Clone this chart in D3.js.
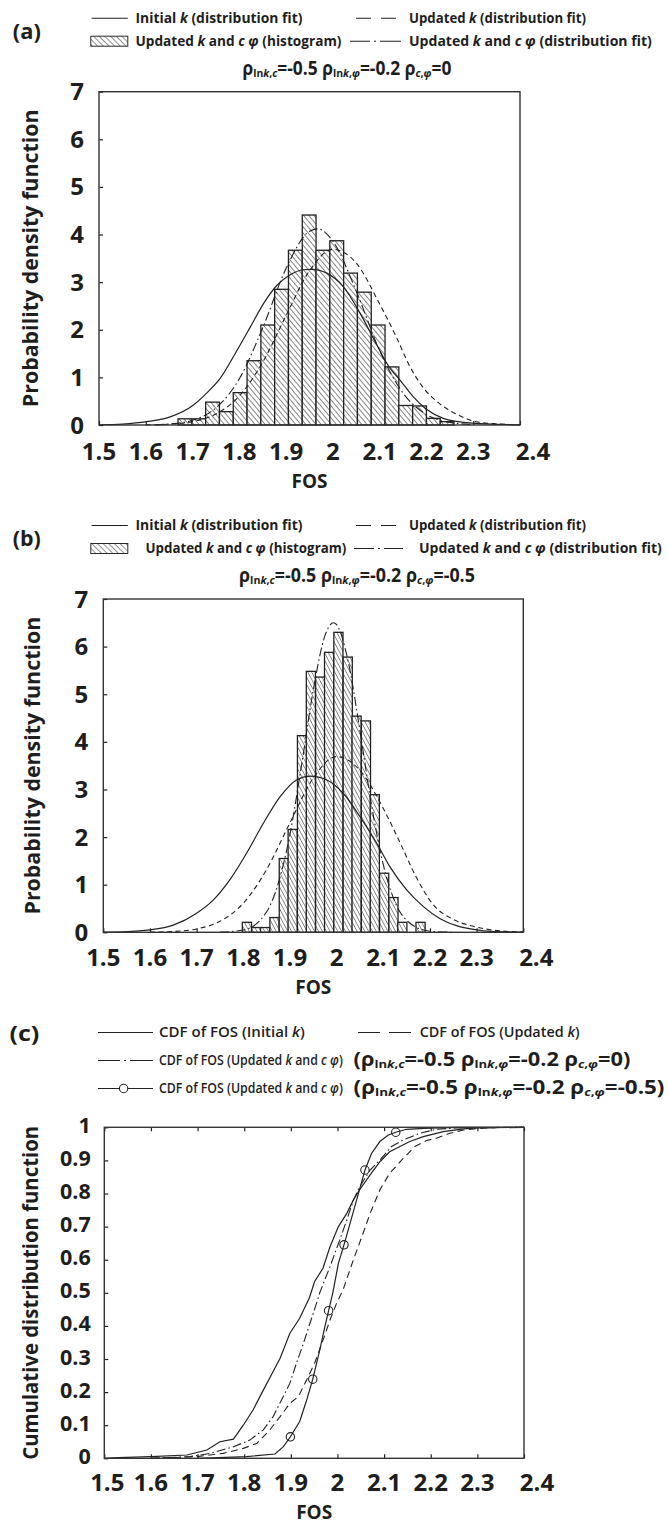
<!DOCTYPE html>
<html><head><meta charset="utf-8">
<script src="https://cdn.jsdelivr.net/npm/d3@7"></script>
<style>
html,body{margin:0;padding:0;background:#fff;}
svg text{font-family:"Open Sans",sans-serif;fill:#1e1e1e;}
</style></head><body>
<svg id="chart" width="668" height="1526"></svg>
<script>
// ---------------- DATA ----------------
const xTickValues = [1.5, 1.6, 1.7, 1.8, 1.9, 2.0, 2.1, 2.2, 2.3, 2.4];
const xTickLabels = ["1.5", "1.6", "1.7", "1.8", "1.9", "2", "2.1", "2.2", "2.3", "2.4"];
const pdfTickValues = [0, 1, 2, 3, 4, 5, 6, 7];
const pdfTickLabels = ["0", "1", "2", "3", "4", "5", "6", "7"];
const cdfTickValues = [0, 0.1, 0.2, 0.3, 0.4, 0.5, 0.6, 0.7, 0.8, 0.9, 1];
const cdfTickLabels = ["0", "0.1", "0.2", "0.3", "0.4", "0.5", "0.6", "0.7", "0.8", "0.9", "1"];

// (a) histogram: Updated k and c phi, rho_c,phi = 0
const histA_binStart = [1.669, 1.6985, 1.728, 1.7575, 1.787, 1.8165, 1.846, 1.8755, 1.905, 1.9345,
                        1.964, 1.9935, 2.023, 2.0525, 2.082, 2.1115, 2.141, 2.1705, 2.200, 2.2295];
const histA_binWidth = 0.0295;
const histA_density = [0.13, 0.13, 0.48, 0.28, 0.68, 1.35, 2.10, 2.85, 3.67, 4.41,
                       3.67, 3.87, 3.19, 2.79, 2.10, 1.22, 0.41, 0.40, 0.14, 0.07];
// (a) fitted pdfs
const pdfA_initialK = [[1.50,0.005],[1.55,0.02],[1.602,0.07],[1.652,0.17],[1.702,0.42],[1.730,0.67],[1.759,0.98],
  [1.794,1.55],[1.823,2.05],[1.851,2.54],[1.880,2.93],[1.908,3.15],[1.937,3.26],[1.955,3.27],[1.987,3.19],
  [2.022,2.91],[2.058,2.35],[2.094,1.68],[2.120,1.22],[2.143,0.95],[2.172,0.59],[2.200,0.33],[2.236,0.14],
  [2.286,0.05],[2.357,0.012],[2.40,0.004]];
const pdfA_updatedK = [[1.60,0.003],[1.65,0.017],[1.70,0.07],[1.75,0.23],[1.80,0.61],[1.85,1.32],[1.90,2.30],
  [1.95,3.24],[2.00,3.69],[2.05,3.40],[2.10,2.54],[2.136,1.84],[2.164,1.24],[2.192,0.80],[2.228,0.45],
  [2.27,0.20],[2.306,0.07],[2.35,0.023],[2.40,0.005]];
const pdfA_updatedKcphi = [[1.62,0.005],[1.65,0.02],[1.70,0.10],[1.75,0.36],[1.80,0.97],[1.85,2.04],[1.90,3.29],
  [1.95,4.07],[1.968,4.12],[2.00,3.86],[2.05,2.81],[2.10,1.56],[2.15,0.67],[2.20,0.22],[2.25,0.055],[2.30,0.01]];

// (b) histogram: Updated k and c phi, rho_c,phi = -0.5
const histB_binStart = [1.798, 1.818, 1.837, 1.857, 1.877, 1.896, 1.916, 1.935, 1.955, 1.974,
                        1.994, 2.014, 2.033, 2.053, 2.072, 2.092, 2.112, 2.131, 2.151, 2.170];
const histB_binWidth = 0.0196;
const histB_density = [0.21, 0.10, 0.10, 0.31, 1.55, 2.16, 4.13, 5.48, 5.36, 5.88,
                       6.30, 5.78, 4.54, 4.44, 2.89, 1.24, 0.73, 0.21, 0.0, 0.21];
// (b) fitted pdfs
const pdfB_initialK = [[1.50,0.005],[1.543,0.012],[1.60,0.05],[1.65,0.15],[1.70,0.40],[1.736,0.68],[1.771,1.10],
  [1.807,1.66],[1.843,2.29],[1.879,2.85],[1.914,3.20],[1.943,3.28],[1.979,3.20],[2.014,2.92],[2.05,2.43],
  [2.086,1.87],[2.114,1.38],[2.15,0.89],[2.186,0.54],[2.221,0.29],[2.257,0.14],[2.30,0.05],[2.329,0.02],[2.40,0.003]];
const pdfB_updatedK = [[1.60,0.003],[1.65,0.017],[1.70,0.07],[1.75,0.23],[1.80,0.61],[1.85,1.32],[1.90,2.30],
  [1.95,3.24],[2.00,3.69],[2.05,3.40],[2.10,2.60],[2.136,1.88],[2.17,1.17],[2.207,0.58],[2.25,0.27],
  [2.30,0.11],[2.35,0.03],[2.40,0.008]];
const pdfB_updatedKcphi = [[1.75,0.003],[1.80,0.047],[1.85,0.43],[1.875,1.03],[1.90,2.06],[1.925,3.52],[1.95,5.09],
  [1.975,6.23],[1.993,6.50],[2.00,6.46],[2.025,5.68],[2.05,4.23],[2.075,2.66],[2.10,1.42],[2.125,0.64],
  [2.15,0.25],[2.20,0.022],[2.25,0.0]];

// (c) cumulative distribution functions
const cdf_initialK = [[1.50,0],[1.53,0.002],[1.60,0.005],[1.677,0.01],[1.72,0.025],[1.748,0.05],[1.777,0.058],
  [1.798,0.10],[1.819,0.146],[1.841,0.206],[1.862,0.262],[1.877,0.302],[1.898,0.378],[1.919,0.423],[1.94,0.486],
  [1.951,0.534],[1.969,0.574],[1.984,0.639],[2.002,0.70],[2.02,0.74],[2.034,0.78],[2.045,0.806],[2.07,0.856],
  [2.091,0.896],[2.112,0.926],[2.134,0.942],[2.155,0.957],[2.184,0.972],[2.227,0.987],[2.27,0.995],[2.30,0.998],[2.40,1.0]];
const cdf_updatedK = [[1.60,0],[1.698,0.005],[1.755,0.015],[1.798,0.03],[1.827,0.045],[1.855,0.086],[1.877,0.126],
  [1.898,0.166],[1.916,0.186],[1.934,0.237],[1.951,0.287],[1.969,0.357],[1.984,0.418],[1.998,0.468],[2.012,0.509],
  [2.034,0.599],[2.055,0.68],[2.07,0.74],[2.091,0.811],[2.112,0.861],[2.141,0.906],[2.166,0.942],[2.191,0.96],
  [2.212,0.967],[2.241,0.982],[2.27,0.992],[2.298,0.996],[2.35,1.0],[2.40,1.0]];
const cdf_updatedKcphi_rho0 = [[1.60,0],[1.684,0.005],[1.727,0.015],[1.777,0.035],[1.812,0.055],[1.841,0.086],
  [1.862,0.126],[1.88,0.176],[1.898,0.227],[1.912,0.287],[1.927,0.347],[1.941,0.408],[1.955,0.468],[1.962,0.50],
  [1.984,0.579],[2.005,0.66],[2.02,0.72],[2.034,0.78],[2.048,0.821],[2.07,0.871],[2.091,0.901],[2.116,0.942],
  [2.141,0.962],[2.177,0.982],[2.212,0.994],[2.255,0.998],[2.40,1.0]];
const cdf_updatedKcphi_rhoNeg05 = [[1.70,0],[1.805,0.005],[1.866,0.013],[1.884,0.035],[1.899,0.065],[1.919,0.111],
  [1.934,0.176],[1.947,0.239],[1.962,0.327],[1.973,0.398],[1.981,0.446],[1.99,0.50],[2.002,0.589],[2.014,0.645],
  [2.027,0.71],[2.041,0.78],[2.059,0.871],[2.073,0.921],[2.091,0.957],[2.109,0.977],[2.125,0.985],[2.148,0.994],
  [2.184,0.997],[2.255,1.0],[2.40,1.0]];
const cdf_rhoNeg05_markers = [[1.899,0.065],[1.947,0.239],[1.981,0.446],[2.014,0.645],[2.059,0.871],[2.125,0.985]];

// ---------------- LAYOUT ----------------
const svg = d3.select("#chart");
const INK = "#222";
const defs = svg.append("defs");
function hatch(id, spacing, angle, sw) {
  const p = defs.append("pattern").attr("id", id).attr("patternUnits", "userSpaceOnUse")
    .attr("width", spacing).attr("height", spacing).attr("patternTransform", `rotate(${angle})`);
  p.append("rect").attr("width", spacing).attr("height", spacing).attr("fill", "#fff");
  p.append("line").attr("x1", 0).attr("y1", 0).attr("x2", 0).attr("y2", spacing)
    .attr("stroke", "#262626").attr("stroke-width", sw);
}
hatch("hatchA", 3.9, -40, 1.1);
hatch("hatchB", 3.4, -28, 1.0);
hatch("hatchL", 4.0, -45, 1.0);

function fit(sel, target) {
  const w = sel.node().getComputedTextLength();
  const x = +sel.attr("x") || 0;
  const s = target / w;
  sel.attr("transform", `translate(${x},0) scale(${s},1) translate(${-x},0)`);
  return sel;
}
// rich text: segments [text, flags] flags: i=italic, s=subscript
function rich(g, x, y, segs, size, weight, anchor, subScale, shiftEm) {
  const t = g.append("text").attr("x", x).attr("y", y).attr("font-size", size)
    .attr("font-weight", weight).attr("text-anchor", anchor || "start");
  let inSub = false;
  const shift = size * (shiftEm || 0.08);
  segs.forEach(([s, f]) => {
    f = f || "";
    const sub = f.includes("s");
    const ts = t.append("tspan").text(s);
    if (f.includes("i")) ts.attr("font-style", "italic");
    if (sub) ts.attr("font-size", size * (subScale || 0.62));
    if (sub && !inSub) ts.attr("dy", shift);
    if (!sub && inSub) ts.attr("dy", -shift);
    inSub = sub;
  });
  return t;
}
function rhoSegs(last, paren) {
  const s = [];
  if (paren) s.push(["("]);
  s.push(["ρ"], ["ln", "s"], ["k", "si"], [",", "s"], ["c", "si"], ["=-0.5 ρ"], ["ln", "s"], ["k", "si"], [",", "s"],
    ["φ", "si"], ["=-0.2 ρ"], ["c", "si"], [",", "s"], ["φ", "si"], ["=" + last + (paren ? ")" : "")]);
  return s;
}

function panel(cfg) {
  const x = d3.scaleLinear().domain([1.5, 2.4]).range([cfg.left, cfg.right]);
  const y = d3.scaleLinear().domain(cfg.yDomain).range([cfg.bottom, cfg.top]);
  const g = svg.append("g");
  const ax = g.append("g").attr("transform", `translate(0,${cfg.bottom})`)
    .call(d3.axisBottom(x).tickValues(xTickValues).tickSize(-4).tickFormat(""));
  ax.select(".domain").remove();
  ax.selectAll("line").attr("stroke", INK).attr("stroke-width", 1.2);
  if (cfg.topTicks) {
    const at = g.append("g").attr("transform", `translate(0,${cfg.top})`)
      .call(d3.axisTop(x).tickValues(xTickValues).tickSize(-4).tickFormat(""));
    at.select(".domain").remove();
    at.selectAll("line").attr("stroke", INK).attr("stroke-width", 1.2);
  }
  const ay = g.append("g").attr("transform", `translate(${cfg.left},0)`)
    .call(d3.axisLeft(y).tickValues(cfg.yTicks).tickSize(-4).tickFormat(""));
  ay.select(".domain").remove();
  ay.selectAll("line").attr("stroke", INK).attr("stroke-width", 1.2);
  const n = xTickValues.length;
  g.selectAll(".xl").data(xTickValues).join("text")
    .attr("x", (d, i) => x(d) + (i === n - 1 ? 13 : (i === 0 ? cfg.firstXLabShift : 0)))
    .attr("y", cfg.bottom + cfg.xLabOff).attr("text-anchor", "middle")
    .attr("font-size", 24).attr("font-weight", 700).text((d, i) => xTickLabels[i]);
  g.selectAll(".yl").data(cfg.yTicks).join("text")
    .attr("x", cfg.left - cfg.yLabGap).attr("y", d => y(d) + cfg.yLabDy).attr("text-anchor", "end")
    .attr("font-size", cfg.yLabSize).attr("font-weight", 700).text((d, i) => cfg.yLabels[i]);
  g.append("text").attr("x", (cfg.left + cfg.right) / 2).attr("y", cfg.bottom + cfg.xTitleOff)
    .attr("text-anchor", "middle").attr("font-size", 19).attr("font-weight", 700).text("FOS");
  const yt = g.append("g").attr("transform", `translate(${cfg.yTitleX},${(cfg.top + cfg.bottom) / 2}) rotate(-90)`);
  fit(yt.append("text").attr("x", 0).attr("y", 0).attr("text-anchor", "middle")
    .attr("font-size", 20.5).attr("font-weight", 700).text(cfg.yTitle), cfg.yTitleLen);
  return {g, x, y};
}

function drawHist(p, starts, w, dens, pat) {
  p.g.append("g").selectAll("rect").data(starts.map((s, i) => [s, dens[i]]).filter(d => d[1] > 0))
    .join("rect")
    .attr("x", d => p.x(d[0])).attr("width", d => p.x(d[0] + w) - p.x(d[0]))
    .attr("y", d => p.y(d[1])).attr("height", d => p.y(0) - p.y(d[1]))
    .attr("fill", `url(#${pat})`).attr("stroke", "#222").attr("stroke-width", 1.3);
}
function drawLine(p, data, dash, curve, sw) {
  const line = d3.line().x(d => p.x(d[0])).y(d => p.y(d[1])).curve(curve);
  p.g.append("path").datum(data).attr("d", line).attr("fill", "none").attr("stroke", INK)
    .attr("stroke-width", sw || 1.1).attr("stroke-dasharray", dash || null);
}
function box(p, cfg) {
  p.g.append("rect").attr("x", cfg.left).attr("y", cfg.top).attr("width", cfg.right - cfg.left)
    .attr("height", cfg.bottom - cfg.top).attr("fill", "none").attr("stroke", "#333").attr("stroke-width", 1.4);
}
function seg(g, x1, x2, yy, sw) {
  g.append("line").attr("x1", x1).attr("x2", x2).attr("y1", yy).attr("y2", yy)
    .attr("stroke", INK).attr("stroke-width", sw || 1.1);
}

const DASH = "5,3.5", DASHDOT = "9,3,1.6,3";

// ---------- Panel (a) ----------
const cfgA = {left: 99, right: 520, top: 91.7, bottom: 425, yDomain: [0, 7], yTicks: pdfTickValues, yLabels: pdfTickLabels,
  xLabOff: 35, yLabGap: 15, yLabSize: 24, yLabDy: 8.5, xTitleOff: 63, yTitleX: 38, firstXLabShift: 0,
  yTitle: "Probability density function", yTitleLen: 298};
const pA = panel(cfgA);
drawHist(pA, histA_binStart, histA_binWidth, histA_density, "hatchA");
drawLine(pA, pdfA_initialK, null, d3.curveMonotoneX, 1.2);
drawLine(pA, pdfA_updatedK, DASH, d3.curveMonotoneX);
drawLine(pA, pdfA_updatedKcphi, DASHDOT, d3.curveMonotoneX);
box(pA, cfgA);

// ---------- Panel (b) ----------
const cfgB = {left: 103.3, right: 523.3, top: 599, bottom: 932.3, yDomain: [0, 7], yTicks: pdfTickValues, yLabels: pdfTickLabels,
  xLabOff: 34, yLabGap: 15, yLabSize: 24, yLabDy: 8.5, xTitleOff: 62, yTitleX: 40, firstXLabShift: 0,
  yTitle: "Probability density function", yTitleLen: 298};
const pB = panel(cfgB);
drawHist(pB, histB_binStart, histB_binWidth, histB_density, "hatchB");
drawLine(pB, pdfB_initialK, null, d3.curveMonotoneX, 1.2);
drawLine(pB, pdfB_updatedK, DASH, d3.curveMonotoneX);
drawLine(pB, pdfB_updatedKcphi, DASHDOT, d3.curveMonotoneX);
box(pB, cfgB);

// ---------- Panel (c) ----------
const cfgC = {left: 104.3, right: 524, top: 1127.3, bottom: 1458.3, yDomain: [0, 1], yTicks: cdfTickValues, yLabels: cdfTickLabels,
  xLabOff: 33, yLabGap: 13.5, yLabSize: 21.5, yLabDy: 5.5, xTitleOff: 61, yTitleX: 38, firstXLabShift: 3,
  yTitle: "Cumulative distribution function", yTitleLen: 334, topTicks: true};
const pC = panel(cfgC);
drawLine(pC, cdf_initialK, null, d3.curveLinear, 1.2);
drawLine(pC, cdf_updatedK, "7,4.5", d3.curveLinear);
drawLine(pC, cdf_updatedKcphi_rho0, DASHDOT, d3.curveLinear);
drawLine(pC, cdf_updatedKcphi_rhoNeg05, null, d3.curveLinear, 1.2);
pC.g.append("g").selectAll("circle").data(cdf_rhoNeg05_markers).join("circle")
  .attr("cx", d => pC.x(d[0])).attr("cy", d => pC.y(d[1])).attr("r", 4.2)
  .attr("fill", "none").attr("stroke", INK).attr("stroke-width", 1.1);
box(pC, cfgC);

// ---------------- LEGENDS ----------------
const L = svg.append("g");
const LF = 14.5;
function pdfLegend(top, letter, shiftB, last, rhoCx, rhoW) {
  const r1 = top - 68.5, r2 = top - 45.5, r3 = top - 16.5;
  fit(L.append("text").attr("x", 12.8).attr("y", top - 53).attr("font-size", 20.5).attr("font-weight", 700).text(letter), 28);
  seg(L, 91.6, 127.8, r1 - 5);
  fit(rich(L, 135.5, r1, [["Initial "], ["k", "i"], [" (distribution fit)"]], LF, 700), 167);
  L.append("line").attr("x1", 356).attr("x2", 396.3).attr("y1", r1 - 5).attr("y2", r1 - 5)
    .attr("stroke", INK).attr("stroke-width", 1.1).attr("stroke-dasharray", "15,10");
  fit(rich(L, 409, r1, [["Updated "], ["k", "i"], [" (distribution fit)"]], LF, 700), 177);
  L.append("rect").attr("x", 90.8).attr("y", r2 - 10).attr("width", 37).attr("height", 10)
    .attr("fill", "url(#hatchL)").attr("stroke", "#2a2a2a").attr("stroke-width", 1);
  fit(rich(L, 135.5 + shiftB, r2, [["Updated "], ["k", "i"], [" and "], ["c", "i"], [" "], ["φ", "i"], [" (histogram)"]], LF, 700),
    206 - shiftB * 0.5);
  L.append("line").attr("x1", 350 + shiftB * 0.4).attr("x2", 401 + shiftB * 0.2).attr("y1", r2 - 5).attr("y2", r2 - 5)
    .attr("stroke", INK).attr("stroke-width", 1.1).attr("stroke-dasharray", "20,4,2,4,40");
  fit(rich(L, 409 + shiftB, r2, [["Updated "], ["k", "i"], [" and "], ["c", "i"], [" "], ["φ", "i"], [" (distribution fit)"]], LF, 700), 243);
  fit(rich(L, rhoCx, r3, rhoSegs(last, false), 19, 700, "middle", 0.6), rhoW);
}
pdfLegend(cfgA.top, "(a)", 0, "0", 347, 209);
pdfLegend(cfgB.top, "(b)", 10, "-0.5", 357, 236);

// (c)
{
  const r1 = 1037, r2 = 1065, r3 = 1093;
  const CF = 13.5;
  fit(L.append("text").attr("x", 9.4).attr("y", 1041).attr("font-size", 20.5).attr("font-weight", 700).text("(c)"), 30);
  seg(L, 98, 153, r1 - 4.5, 1.2);
  fit(rich(L, 159, r1, [["CDF of FOS (Initial "], ["k", "i"], [")"]], CF, 600), 146);
  L.append("line").attr("x1", 358).attr("x2", 411).attr("y1", r1 - 4.5).attr("y2", r1 - 4.5)
    .attr("stroke", INK).attr("stroke-width", 1.1).attr("stroke-dasharray", "22,9");
  fit(rich(L, 419.7, r1, [["CDF of FOS (Updated "], ["k", "i"], [")"]], CF, 600), 160);
  L.append("line").attr("x1", 98).attr("x2", 153).attr("y1", r2 - 4.5).attr("y2", r2 - 4.5)
    .attr("stroke", INK).attr("stroke-width", 1.1).attr("stroke-dasharray", "22,4,2,4,40");
  fit(rich(L, 159, r2, [["CDF of FOS (Updated "], ["k", "i"], [" and "], ["c", "i"], ["  "], ["φ", "i"], [")"]], CF, 600), 184);
  fit(rich(L, 353.6, r2 + 1, rhoSegs("0", true), 19, 700, "start", 0.6), 277);
  seg(L, 98, 153, r3 - 4.5, 1.2);
  L.append("circle").attr("cx", 123.6).attr("cy", r3 - 4.5).attr("r", 4.2).attr("fill", "#fff")
    .attr("stroke", INK).attr("stroke-width", 1.1);
  fit(rich(L, 159, r3, [["CDF of FOS (Updated "], ["k", "i"], [" and "], ["c", "i"], ["  "], ["φ", "i"], [")"]], CF, 600), 184);
  fit(rich(L, 353.6, r3 + 1, rhoSegs("-0.5", true), 19, 700, "start", 0.6), 311);
}
</script>
</body></html>
